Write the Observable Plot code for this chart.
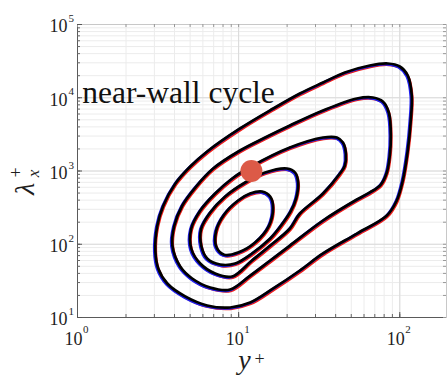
<!DOCTYPE html>
<html>
<head>
<meta charset="utf-8">
<script src="https://cdn.jsdelivr.net/npm/d3@7"></script>
<script src="https://cdn.jsdelivr.net/npm/@observablehq/plot@0.6"></script>
<style>
  html, body { margin: 0; padding: 0; background: #fff; }
  #chart svg { display: block; }
</style>
</head>
<body>
<div id="chart"></div>
<script>
// Iso-contours of the premultiplied spectrum, as (y+, lambda_x+) pairs, outermost first
const contour1 = [[24, 11430], [33.4, 16150], [45.65, 22120], [65.2, 27560], [84.3, 29350], [100, 26710],
  [112.1, 20130], [118.7, 10730], [117, 4890], [112.1, 1905], [104.4, 741], [95.8, 396], [83.1, 247],
  [54.2, 140], [33.4, 74.8], [24, 43.8], [16.4, 24.9], [11.8, 16.0], [8.86, 13.7], [6.38, 14.6],
  [4.66, 19.4], [3.61, 29.1], [3.17, 46.7], [3.04, 82], [3.13, 180], [3.41, 338], [4.05, 675],
  [5.01, 1151], [6.38, 1846], [10.2, 3805], [16.4, 7130]];
const contour2 = [[20.8, 4180], [33.4, 6700], [54.2, 9770], [68.1, 10080], [78.5, 8890], [85.5, 6290],
  [88, 3050], [86.7, 1628], [83.1, 954], [76.3, 654], [65.2, 509], [54.2, 408], [33.4, 211],
  [20.8, 96], [15.7, 60], [11.8, 37.4], [8.86, 24.1], [6.66, 25.7], [5.15, 34.1], [4.34, 49.7],
  [3.88, 96], [3.99, 180], [4.47, 338], [5.38, 595], [6.95, 1082], [10.2, 1905], [14.6, 2866]];
const contour3 = [[11.95, 1151], [20.8, 2093], [33.4, 2866], [40.7, 2866], [44.4, 2449], [46.3, 1734],
  [45.65, 1189], [42.5, 924], [33.4, 493], [24, 263], [20.8, 164], [15.7, 96], [12.1, 60],
  [9.12, 36.3], [7.15, 39.9], [5.78, 54.6], [5.08, 87.5], [5.08, 164], [5.78, 289], [7.15, 493], [9.12, 790]];
const contour4 = [[19.97, 1082], [22.4, 954], [23.4, 697], [22.8, 430], [21.1, 285], [18.33, 180],
  [15.7, 119.8], [12.1, 74.8], [9.51, 54.6], [7.68, 52.9], [6.38, 63.9], [5.86, 96], [5.86, 164],
  [6.66, 271], [8.25, 449], [10.97, 697], [14.6, 954]];
const contour5 = [[13.98, 525], [15.7, 449], [16.36, 317], [15.45, 180], [12.65, 105.7], [9.93, 77.2],
  [8.13, 72], [7.26, 93.2], [7.26, 154], [8.13, 254.8], [9.93, 396], [11.78, 493]];

// Near-wall cycle marker and its label
const cycleMarker = [[12, 1000]];
const cycleLabel = [{x: 1.07, y: 8600, text: "near-wall cycle"}];

// Decade tick positions and their exponents
const xDecades = [1, 10, 100];
const xExponents = ["0", "1", "2"];
const yDecades = [10, 100, 1000, 10000, 100000];
const yExponents = ["1", "2", "3", "4", "5"];

const xDomain = [1, 195];
const yDomain = [10, 1e5];

const W = 448, H = 380, mL = 77, mR = 2, mT = 24, mB = 63;
const innerW = W - mL - mR, innerH = H - mT - mB;

// Minor grid / tick positions (1..9 per decade) from a log scale
const xMinor = d3.scaleLog().domain(xDomain).ticks();
const yMinor = d3.scaleLog().domain(yDomain).ticks();

const contours = [contour1, contour2, contour3, contour4, contour5]
  .flatMap((c, level) => c.map(([x, y]) => ({x, y, level})));

const serif = "'Liberation Serif', 'Times New Roman', serif";
const ink = "#1e1e1e";
const id = (d) => d;

const lineOpts = {x: "x", y: "y", z: "level", curve: "catmull-rom-closed", strokeLinejoin: "round"};
const textOpts = {fontFamily: serif, fill: ink, stroke: "none"};

const chart = Plot.plot({
  width: W,
  height: H,
  marginLeft: mL,
  marginRight: mR,
  marginTop: mT,
  marginBottom: mB,
  style: {fontFamily: serif, background: "#fff", color: ink},
  x: {type: "log", domain: xDomain, axis: null},
  y: {type: "log", domain: yDomain, axis: null},
  marks: [
    // grid
    Plot.ruleX(xMinor, {x: id, stroke: "#ececec"}),
    Plot.ruleY(yMinor, {y: id, stroke: "#ececec"}),
    Plot.ruleX(xDecades, {x: id, stroke: "#dadada"}),
    Plot.ruleY(yDecades, {y: id, stroke: "#dadada"}),

    // box
    Plot.frame({stroke: "#c8c8c8"}),
    Plot.ruleY([yDomain[0]], {y: id, stroke: "#5a5a5a"}),
    Plot.ruleX([xDomain[0]], {x: id, stroke: "#5a5a5a"}),

    // inward ticks on all four sides
    Plot.tickX(xMinor, {x: id, insetTop: innerH - 3, stroke: "#666"}),
    Plot.tickX(xMinor, {x: id, insetBottom: innerH - 3, stroke: "#999"}),
    Plot.tickY(yMinor, {y: id, insetRight: innerW - 3, stroke: "#666"}),
    Plot.tickY(yMinor, {y: id, insetLeft: innerW - 3, stroke: "#999"}),
    Plot.tickX(xDecades, {x: id, insetTop: innerH - 5, stroke: "#555"}),
    Plot.tickY(yDecades, {y: id, insetRight: innerW - 5, stroke: "#555"}),

    // contours: three overlaid fields
    Plot.line(contours, {...lineOpts, stroke: "#ee1c14", strokeWidth: 2.5, dx: 0.6, dy: 1.4}),
    Plot.line(contours, {...lineOpts, stroke: "#1f1fee", strokeWidth: 2.5, dx: -1.1, dy: 0.9}),
    Plot.line(contours, {...lineOpts, stroke: "#000", strokeWidth: 2.7}),

    // near-wall cycle marker
    Plot.dot(cycleMarker, {x: (d) => d[0], y: (d) => d[1], r: 11, fill: "#dc5a47", stroke: "none"}),
    Plot.text(cycleLabel, {...textOpts, x: "x", y: "y", text: "text", textAnchor: "start",
      lineAnchor: "bottom", fontSize: 31.5, fill: "#111"}),

    // decade tick labels (10 with a raised exponent)
    Plot.text(xDecades, {...textOpts, x: id, text: () => "10", frameAnchor: "bottom", textAnchor: "end",
      lineAnchor: "middle", dx: 5, dy: 21.5, fontSize: 18}),
    Plot.text(xDecades, {...textOpts, x: id, text: (d, i) => xExponents[i], frameAnchor: "bottom",
      textAnchor: "start", lineAnchor: "middle", dx: 5.5, dy: 11.5, fontSize: 11}),
    Plot.text(yDecades, {...textOpts, y: id, text: () => "10", frameAnchor: "left", textAnchor: "end",
      lineAnchor: "middle", dx: -10, dy: 2, fontSize: 18}),
    Plot.text(yDecades, {...textOpts, y: id, text: (d, i) => yExponents[i], frameAnchor: "left",
      textAnchor: "start", lineAnchor: "middle", dx: -9, dy: -6, fontSize: 11}),

    // axis titles: y^+ and lambda_x^+
    Plot.text(["y"], {...textOpts, text: id, frameAnchor: "bottom", textAnchor: "middle",
      lineAnchor: "bottom", dx: -17.5, dy: 51, fontSize: 28, fontStyle: "italic"}),
    Plot.text(["+"], {...textOpts, text: id, frameAnchor: "bottom", textAnchor: "middle",
      lineAnchor: "middle", dx: -2.5, dy: 42, fontSize: 18}),
    Plot.text(["λ"], {...textOpts, text: id, frameAnchor: "left", textAnchor: "middle",
      lineAnchor: "bottom", rotate: -90, dx: -44, dy: 18, fontSize: 28, fontStyle: "italic"}),
    Plot.text(["x"], {...textOpts, text: id, frameAnchor: "left", textAnchor: "middle",
      lineAnchor: "bottom", rotate: -90, dx: -39, dy: 2.5, fontSize: 17, fontStyle: "italic"}),
    Plot.text(["+"], {...textOpts, text: id, frameAnchor: "left", textAnchor: "middle",
      lineAnchor: "middle", rotate: -90, dx: -61, dy: 1.5, fontSize: 18})
  ]
});

document.getElementById("chart").appendChild(chart);
</script>
</body>
</html>
